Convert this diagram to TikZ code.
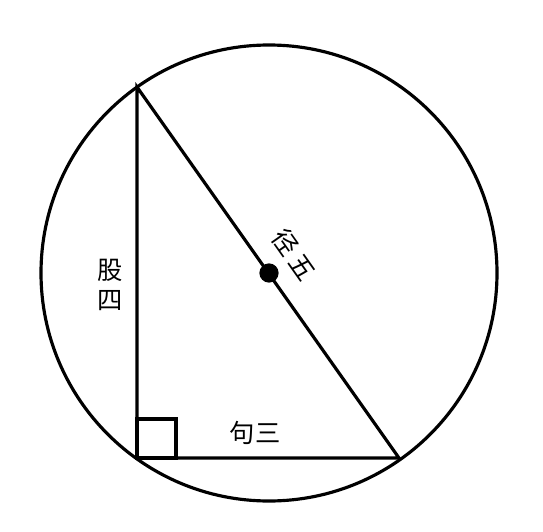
\documentclass[tikz,border=0pt]{standalone}
\usepackage{fontspec}
\newfontfamily\cjk{Noto Sans CJK SC}
\begin{document}
\begin{tikzpicture}[x=0.02cm, y=0.02cm, line width=1.8pt]
        % Canvas
        \useasboundingbox (0,0) rectangle (543,531);
        % Points of the triangle
        \coordinate (O) at (269,258);
        \coordinate (A) at (137,444);
        \coordinate (C) at (137,73);
        \coordinate (B) at (399,73);

        % Circle
        \draw (O) circle (228);
        % Triangle
        \draw (A) -- (C) -- (B) -- cycle;
        % Right angle mark
        \draw (C) rectangle (176,112);
        % Center dot
        \filldraw (O) circle (8);

        % Labels
        \node[font=\cjk\Large, align=center, inner sep=0pt] (gu) at (110,246) {股\\[-1pt]四};
        \node[font=\cjk\Large, inner sep=0pt] (gou) at (255,98) {句三};
        \node[font=\cjk\Large, inner sep=0pt, rotate=-54.8] (jing) at (294,276) {径\hspace{3pt}五};
    \end{tikzpicture}
\end{document}
